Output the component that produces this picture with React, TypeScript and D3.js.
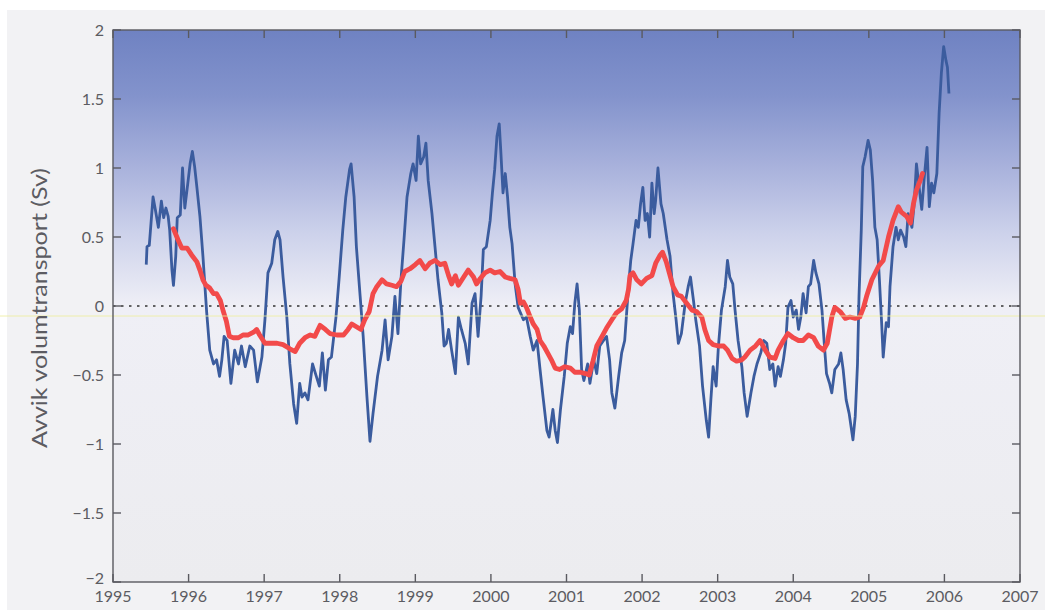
import React from "react";
import * as d3 from "d3";

// Blue series: weekly deviation in volume transport (Sv)
const blueYears = [
  1995.44, 1995.45, 1995.48, 1995.53, 1995.56, 1995.60, 1995.64, 1995.67, 1995.70, 1995.73,
  1995.75, 1995.78, 1995.80, 1995.83, 1995.85, 1995.89, 1995.92, 1995.95, 1995.99, 1996.02,
  1996.05, 1996.08, 1996.11, 1996.15, 1996.19, 1996.24, 1996.28, 1996.33, 1996.37, 1996.41,
  1996.44, 1996.47, 1996.51, 1996.56, 1996.61, 1996.66, 1996.70, 1996.75, 1996.81, 1996.86,
  1996.91, 1996.97, 1997.01, 1997.05, 1997.10, 1997.14, 1997.18, 1997.21, 1997.25, 1997.30,
  1997.34, 1997.39, 1997.43, 1997.47, 1997.50, 1997.54, 1997.58, 1997.64, 1997.69, 1997.73,
  1997.77, 1997.81, 1997.85, 1997.89, 1997.95, 1997.99, 1998.04, 1998.08, 1998.13, 1998.15,
  1998.19, 1998.22, 1998.27, 1998.31, 1998.36, 1998.40, 1998.44, 1998.50, 1998.56, 1998.60,
  1998.64, 1998.69, 1998.73, 1998.77, 1998.81, 1998.85, 1998.89, 1998.94, 1998.97, 1999.01,
  1999.04, 1999.07, 1999.11, 1999.14, 1999.17, 1999.22, 1999.26, 1999.30, 1999.35, 1999.38,
  1999.41, 1999.44, 1999.48, 1999.53, 1999.57, 1999.61, 1999.66, 1999.70, 1999.75, 1999.79,
  1999.83, 1999.87, 1999.90, 1999.94, 1999.99, 2000.02, 2000.05, 2000.08, 2000.11, 2000.13,
  2000.16, 2000.19, 2000.22, 2000.25, 2000.28, 2000.32, 2000.36, 2000.43, 2000.47, 2000.52,
  2000.56, 2000.61, 2000.65, 2000.69, 2000.74, 2000.77, 2000.82, 2000.85, 2000.88, 2000.92,
  2000.97, 2001.01, 2001.05, 2001.08, 2001.11, 2001.14, 2001.17, 2001.20, 2001.23, 2001.28,
  2001.31, 2001.36, 2001.40, 2001.44, 2001.49, 2001.53, 2001.57, 2001.60, 2001.64, 2001.69,
  2001.73, 2001.77, 2001.82, 2001.85, 2001.88, 2001.92, 2001.95, 2001.98, 2002.01, 2002.04,
  2002.07, 2002.10, 2002.13, 2002.16, 2002.18, 2002.21, 2002.25, 2002.28, 2002.33, 2002.37,
  2002.41, 2002.45, 2002.48, 2002.52, 2002.57, 2002.61, 2002.64, 2002.68, 2002.71, 2002.76,
  2002.80, 2002.85, 2002.88, 2002.91, 2002.94, 2002.98, 2003.01, 2003.05, 2003.10, 2003.13,
  2003.16, 2003.20, 2003.23, 2003.27, 2003.32, 2003.35, 2003.39, 2003.44, 2003.48, 2003.52,
  2003.57, 2003.61, 2003.65, 2003.69, 2003.73, 2003.76, 2003.80, 2003.83, 2003.87, 2003.90,
  2003.93, 2003.97, 2004.00, 2004.04, 2004.07, 2004.10, 2004.13, 2004.17, 2004.20, 2004.23,
  2004.27, 2004.30, 2004.34, 2004.38, 2004.41, 2004.44, 2004.48, 2004.51, 2004.55, 2004.60,
  2004.63, 2004.66, 2004.70, 2004.74, 2004.79, 2004.82, 2004.85, 2004.87, 2004.90, 2004.92,
  2004.95, 2004.99, 2005.02, 2005.05, 2005.08, 2005.11, 2005.14, 2005.17, 2005.19, 2005.23,
  2005.26, 2005.28, 2005.32, 2005.36, 2005.39, 2005.42, 2005.46, 2005.49, 2005.52, 2005.57,
  2005.60, 2005.63, 2005.67, 2005.70, 2005.73, 2005.77, 2005.80, 2005.83, 2005.86, 2005.90,
  2005.93, 2005.96, 2005.99, 2006.02, 2006.04, 2006.06,
];
const blueValues = [
  0.30, 0.43, 0.44, 0.79, 0.70, 0.57, 0.76, 0.64, 0.71, 0.65,
  0.55, 0.26, 0.15, 0.36, 0.64, 0.66, 1.00, 0.71, 0.89, 1.03,
  1.12, 1.01, 0.86, 0.65, 0.36, -0.05, -0.32, -0.42, -0.39, -0.51,
  -0.39, -0.22, -0.25, -0.56, -0.32, -0.42, -0.29, -0.44, -0.29, -0.32,
  -0.55, -0.37, -0.10, 0.24, 0.31, 0.48, 0.54, 0.48, 0.21, -0.08,
  -0.42, -0.71, -0.85, -0.56, -0.66, -0.63, -0.68, -0.42, -0.51, -0.58,
  -0.34, -0.61, -0.39, -0.37, -0.08, 0.19, 0.55, 0.79, 0.99, 1.03,
  0.79, 0.43, 0.07, -0.22, -0.66, -0.98, -0.78, -0.51, -0.32, -0.10,
  -0.39, -0.22, 0.07, -0.20, 0.19, 0.48, 0.79, 0.96, 1.03, 0.91,
  1.23, 1.03, 1.08, 1.18, 0.91, 0.67, 0.43, 0.19, -0.05, -0.29,
  -0.27, -0.17, -0.32, -0.49, -0.08, -0.17, -0.27, -0.42, 0.02, 0.09,
  -0.22, 0.07, 0.41, 0.43, 0.62, 0.82, 0.99, 1.23, 1.32, 1.13,
  0.82, 0.96, 0.79, 0.57, 0.45, 0.16, -0.01, -0.10, -0.08, -0.22,
  -0.32, -0.25, -0.46, -0.66, -0.90, -0.95, -0.75, -0.90, -0.99, -0.75,
  -0.51, -0.27, -0.15, -0.20, 0.02, 0.16, -0.03, -0.46, -0.54, -0.42,
  -0.56, -0.39, -0.49, -0.29, -0.25, -0.22, -0.39, -0.63, -0.74, -0.51,
  -0.34, -0.25, 0.14, 0.33, 0.45, 0.62, 0.57, 0.74, 0.86, 0.62,
  0.67, 0.50, 0.89, 0.67, 0.77, 1.00, 0.74, 0.67, 0.48, 0.36,
  0.09, -0.10, -0.27, -0.20, 0.02, 0.14, 0.21, 0.04, -0.10, -0.29,
  -0.58, -0.83, -0.95, -0.68, -0.44, -0.58, -0.29, -0.03, 0.14, 0.33,
  0.21, 0.16, -0.03, -0.25, -0.44, -0.63, -0.80, -0.63, -0.51, -0.42,
  -0.34, -0.25, -0.27, -0.46, -0.42, -0.58, -0.44, -0.51, -0.39, -0.27,
  -0.01, 0.04, -0.08, -0.03, -0.17, -0.08, 0.09, -0.05, 0.14, 0.16,
  0.33, 0.24, 0.16, -0.03, -0.27, -0.49, -0.56, -0.63, -0.46, -0.42,
  -0.34, -0.46, -0.68, -0.78, -0.97, -0.80, -0.42, 0.07, 0.55, 1.01,
  1.08, 1.20, 1.13, 0.91, 0.57, 0.48, 0.19, -0.13, -0.37, -0.12,
  -0.15, 0.14, 0.43, 0.57, 0.48, 0.55, 0.50, 0.43, 0.67, 0.57,
  0.74, 1.03, 0.84, 0.70, 0.91, 1.15, 0.72, 0.89, 0.82, 0.96,
  1.40, 1.69, 1.88, 1.78, 1.73, 1.54,
];

// Red series: running mean
const redYears = [
  1995.80, 1995.86, 1995.91, 1995.98, 1996.04, 1996.11, 1996.15, 1996.19, 1996.23, 1996.28,
  1996.33, 1996.37, 1996.42, 1996.46, 1996.50, 1996.54, 1996.59, 1996.66, 1996.72, 1996.79,
  1996.86, 1996.90, 1996.94, 1997.01, 1997.10, 1997.17, 1997.25, 1997.34, 1997.41, 1997.47,
  1997.54, 1997.61, 1997.67, 1997.74, 1997.81, 1997.87, 1997.96, 1998.05, 1998.11, 1998.16,
  1998.22, 1998.28, 1998.33, 1998.39, 1998.44, 1998.49, 1998.56, 1998.62, 1998.69, 1998.75,
  1998.81, 1998.86, 1998.93, 1999.00, 1999.06, 1999.13, 1999.19, 1999.26, 1999.33, 1999.39,
  1999.44, 1999.48, 1999.53, 1999.57, 1999.64, 1999.70, 1999.77, 1999.81, 1999.86, 1999.92,
  1999.99, 2000.05, 2000.12, 2000.19, 2000.25, 2000.32, 2000.36, 2000.39, 2000.43, 2000.47,
  2000.52, 2000.56, 2000.61, 2000.65, 2000.70, 2000.75, 2000.80, 2000.85, 2000.91, 2000.98,
  2001.05, 2001.11, 2001.18, 2001.25, 2001.30, 2001.35, 2001.40, 2001.47, 2001.53, 2001.60,
  2001.66, 2001.73, 2001.79, 2001.82, 2001.84, 2001.88, 2001.93, 2001.99, 2002.06, 2002.13,
  2002.18, 2002.24, 2002.27, 2002.32, 2002.36, 2002.41, 2002.47, 2002.52, 2002.59, 2002.66,
  2002.72, 2002.79, 2002.83, 2002.88, 2002.94, 2003.01, 2003.08, 2003.13, 2003.19, 2003.25,
  2003.32, 2003.36, 2003.43, 2003.50, 2003.56, 2003.63, 2003.69, 2003.76, 2003.80, 2003.87,
  2003.93, 2004.00, 2004.07, 2004.13, 2004.20, 2004.27, 2004.33, 2004.40, 2004.45, 2004.51,
  2004.55, 2004.62, 2004.69, 2004.75, 2004.82, 2004.88, 2004.93, 2004.97, 2005.04, 2005.13,
  2005.19, 2005.26, 2005.32, 2005.39, 2005.43, 2005.50, 2005.55, 2005.59, 2005.63, 2005.68,
  2005.71,
];
const redValues = [
  0.56, 0.48, 0.42, 0.42, 0.37, 0.32, 0.26, 0.19, 0.15, 0.13,
  0.09, 0.09, 0.04, -0.04, -0.11, -0.22, -0.23, -0.23, -0.21, -0.21,
  -0.19, -0.17, -0.21, -0.27, -0.27, -0.27, -0.28, -0.31, -0.33, -0.27,
  -0.23, -0.21, -0.22, -0.14, -0.17, -0.20, -0.21, -0.21, -0.17, -0.13,
  -0.15, -0.17, -0.10, -0.04, 0.09, 0.14, 0.19, 0.16, 0.15, 0.14,
  0.18, 0.25, 0.27, 0.30, 0.33, 0.27, 0.31, 0.33, 0.30, 0.31,
  0.22, 0.16, 0.22, 0.15, 0.21, 0.26, 0.21, 0.16, 0.20, 0.24,
  0.26, 0.24, 0.25, 0.21, 0.20, 0.19, 0.12, 0.02, 0.03, -0.01,
  -0.08, -0.13, -0.17, -0.25, -0.29, -0.34, -0.39, -0.45, -0.46, -0.44,
  -0.45, -0.48, -0.48, -0.49, -0.50, -0.40, -0.29, -0.22, -0.16, -0.10,
  -0.05, -0.02, 0.04, 0.12, 0.22, 0.24, 0.19, 0.16, 0.20, 0.22,
  0.31, 0.37, 0.39, 0.32, 0.24, 0.14, 0.08, 0.07, 0.02, -0.03,
  -0.04, -0.08, -0.17, -0.25, -0.28, -0.29, -0.29, -0.32, -0.38, -0.40,
  -0.39, -0.37, -0.32, -0.29, -0.25, -0.32, -0.37, -0.38, -0.32, -0.25,
  -0.20, -0.23, -0.25, -0.25, -0.21, -0.23, -0.29, -0.32, -0.27, -0.08,
  -0.01, -0.04, -0.09, -0.08, -0.09, -0.08, -0.01, 0.07, 0.19, 0.29,
  0.33, 0.50, 0.62, 0.72, 0.68, 0.65, 0.60, 0.74, 0.84, 0.91,
  0.96,
];

const yearTicks = [1995, 1996, 1997, 1998, 1999, 2000, 2001, 2002, 2003, 2004, 2005, 2006, 2007];
const valueTicks = [-2, -1.5, -1, -0.5, 0, 0.5, 1, 1.5, 2];
const yLabel = "Avvik volumtransport (Sv)";

export default function App() {
  const W = 1045;
  const H = 610;
  const left = 113, right = 1020, top = 30, bottom = 582;
  const x = d3.scaleLinear().domain([1995, 2007]).range([left, right]);
  const y = d3.scaleLinear().domain([-2, 2]).range([bottom, top]);

  const line = d3
    .line<[number, number]>()
    .x((d) => x(d[0]))
    .y((d) => y(d[1]));

  const blueData: [number, number][] = blueYears.map((t, i) => [t, blueValues[i]]);
  const redData: [number, number][] = redYears.map((t, i) => [t, redValues[i]]);
  const fmt = d3.format("");
  const axisColor = "#5a5a60";
  const labelColor = "#5c5c62";
  const font = "Lato, 'Open Sans', sans-serif";
  const tick = 8;

  return (
    <svg
      width={W}
      height={H}
      style={{ position: "absolute", left: 0, top: 0, background: "#ffffff" }}
    >
      <defs>
        <linearGradient id="bg" x1="0" y1="0" x2="0" y2="1">
          <stop offset="0%" stopColor="#6f82c2" />
          <stop offset="12%" stopColor="#8393cc" />
          <stop offset="25%" stopColor="#a9b2dc" />
          <stop offset="37%" stopColor="#cdd2eb" />
          <stop offset="50%" stopColor="#efeff6" />
          <stop offset="100%" stopColor="#ececef" />
        </linearGradient>
      </defs>
      <rect x={7} y={10} width={W - 7} height={H - 10} fill="#f2f2f4" />
      <rect x={left} y={top} width={right - left} height={bottom - top} fill="url(#bg)" />

      {/* zero reference line */}
      <line
        x1={left}
        x2={right}
        y1={y(0)}
        y2={y(0)}
        stroke="#333"
        strokeWidth={1.3}
        strokeDasharray="2.5 5.5"
      />

      {/* blue series */}
      <path d={line(blueData) || ""} fill="none" stroke="#3b5c9e" strokeWidth={2.8} strokeLinejoin="round" />
      {/* red running mean */}
      <path d={line(redData) || ""} fill="none" stroke="#f24a4a" strokeWidth={4.8} strokeLinejoin="round" strokeLinecap="round" />

      {/* faint scan line */}
      <line x1={0} x2={W} y1={316} y2={316} stroke="#eeee9a" strokeWidth={1} opacity={0.8} />

      {/* frame */}
      <rect x={left} y={top} width={right - left} height={bottom - top} fill="none" stroke={axisColor} strokeWidth={1.4} />

      {/* x ticks */}
      {yearTicks.map((t) => (
        <g key={"x" + t}>
          <line x1={x(t)} x2={x(t)} y1={bottom} y2={bottom - tick} stroke={axisColor} strokeWidth={1.4} />
          <line x1={x(t)} x2={x(t)} y1={top} y2={top + tick} stroke={axisColor} strokeWidth={1.4} />
          <text
            x={x(t)}
            y={602}
            textAnchor="middle"
            fontFamily={font}
            fontSize={16}
            fill={labelColor}
          >
            {fmt(t)}
          </text>
        </g>
      ))}

      {/* y ticks */}
      {valueTicks.map((v) => (
        <g key={"y" + v}>
          <line x1={left} x2={left + tick} y1={y(v)} y2={y(v)} stroke={axisColor} strokeWidth={1.4} />
          <line x1={right} x2={right - tick} y1={y(v)} y2={y(v)} stroke={axisColor} strokeWidth={1.4} />
          <text
            x={104}
            y={v === -2 ? y(v) - 4 : y(v)}
            dy="0.35em"
            textAnchor="end"
            fontFamily={font}
            fontSize={16}
            fill={labelColor}
          >
            {fmt(v)}
          </text>
        </g>
      ))}

      <text
        transform={`translate(47, ${y(0) + 2}) rotate(-90)`}
        textAnchor="middle"
        fontFamily={font}
        fontSize={21}
        textLength={280}
        lengthAdjust="spacingAndGlyphs"
        fill={labelColor}
      >
        {yLabel}
      </text>
    </svg>
  );
}
